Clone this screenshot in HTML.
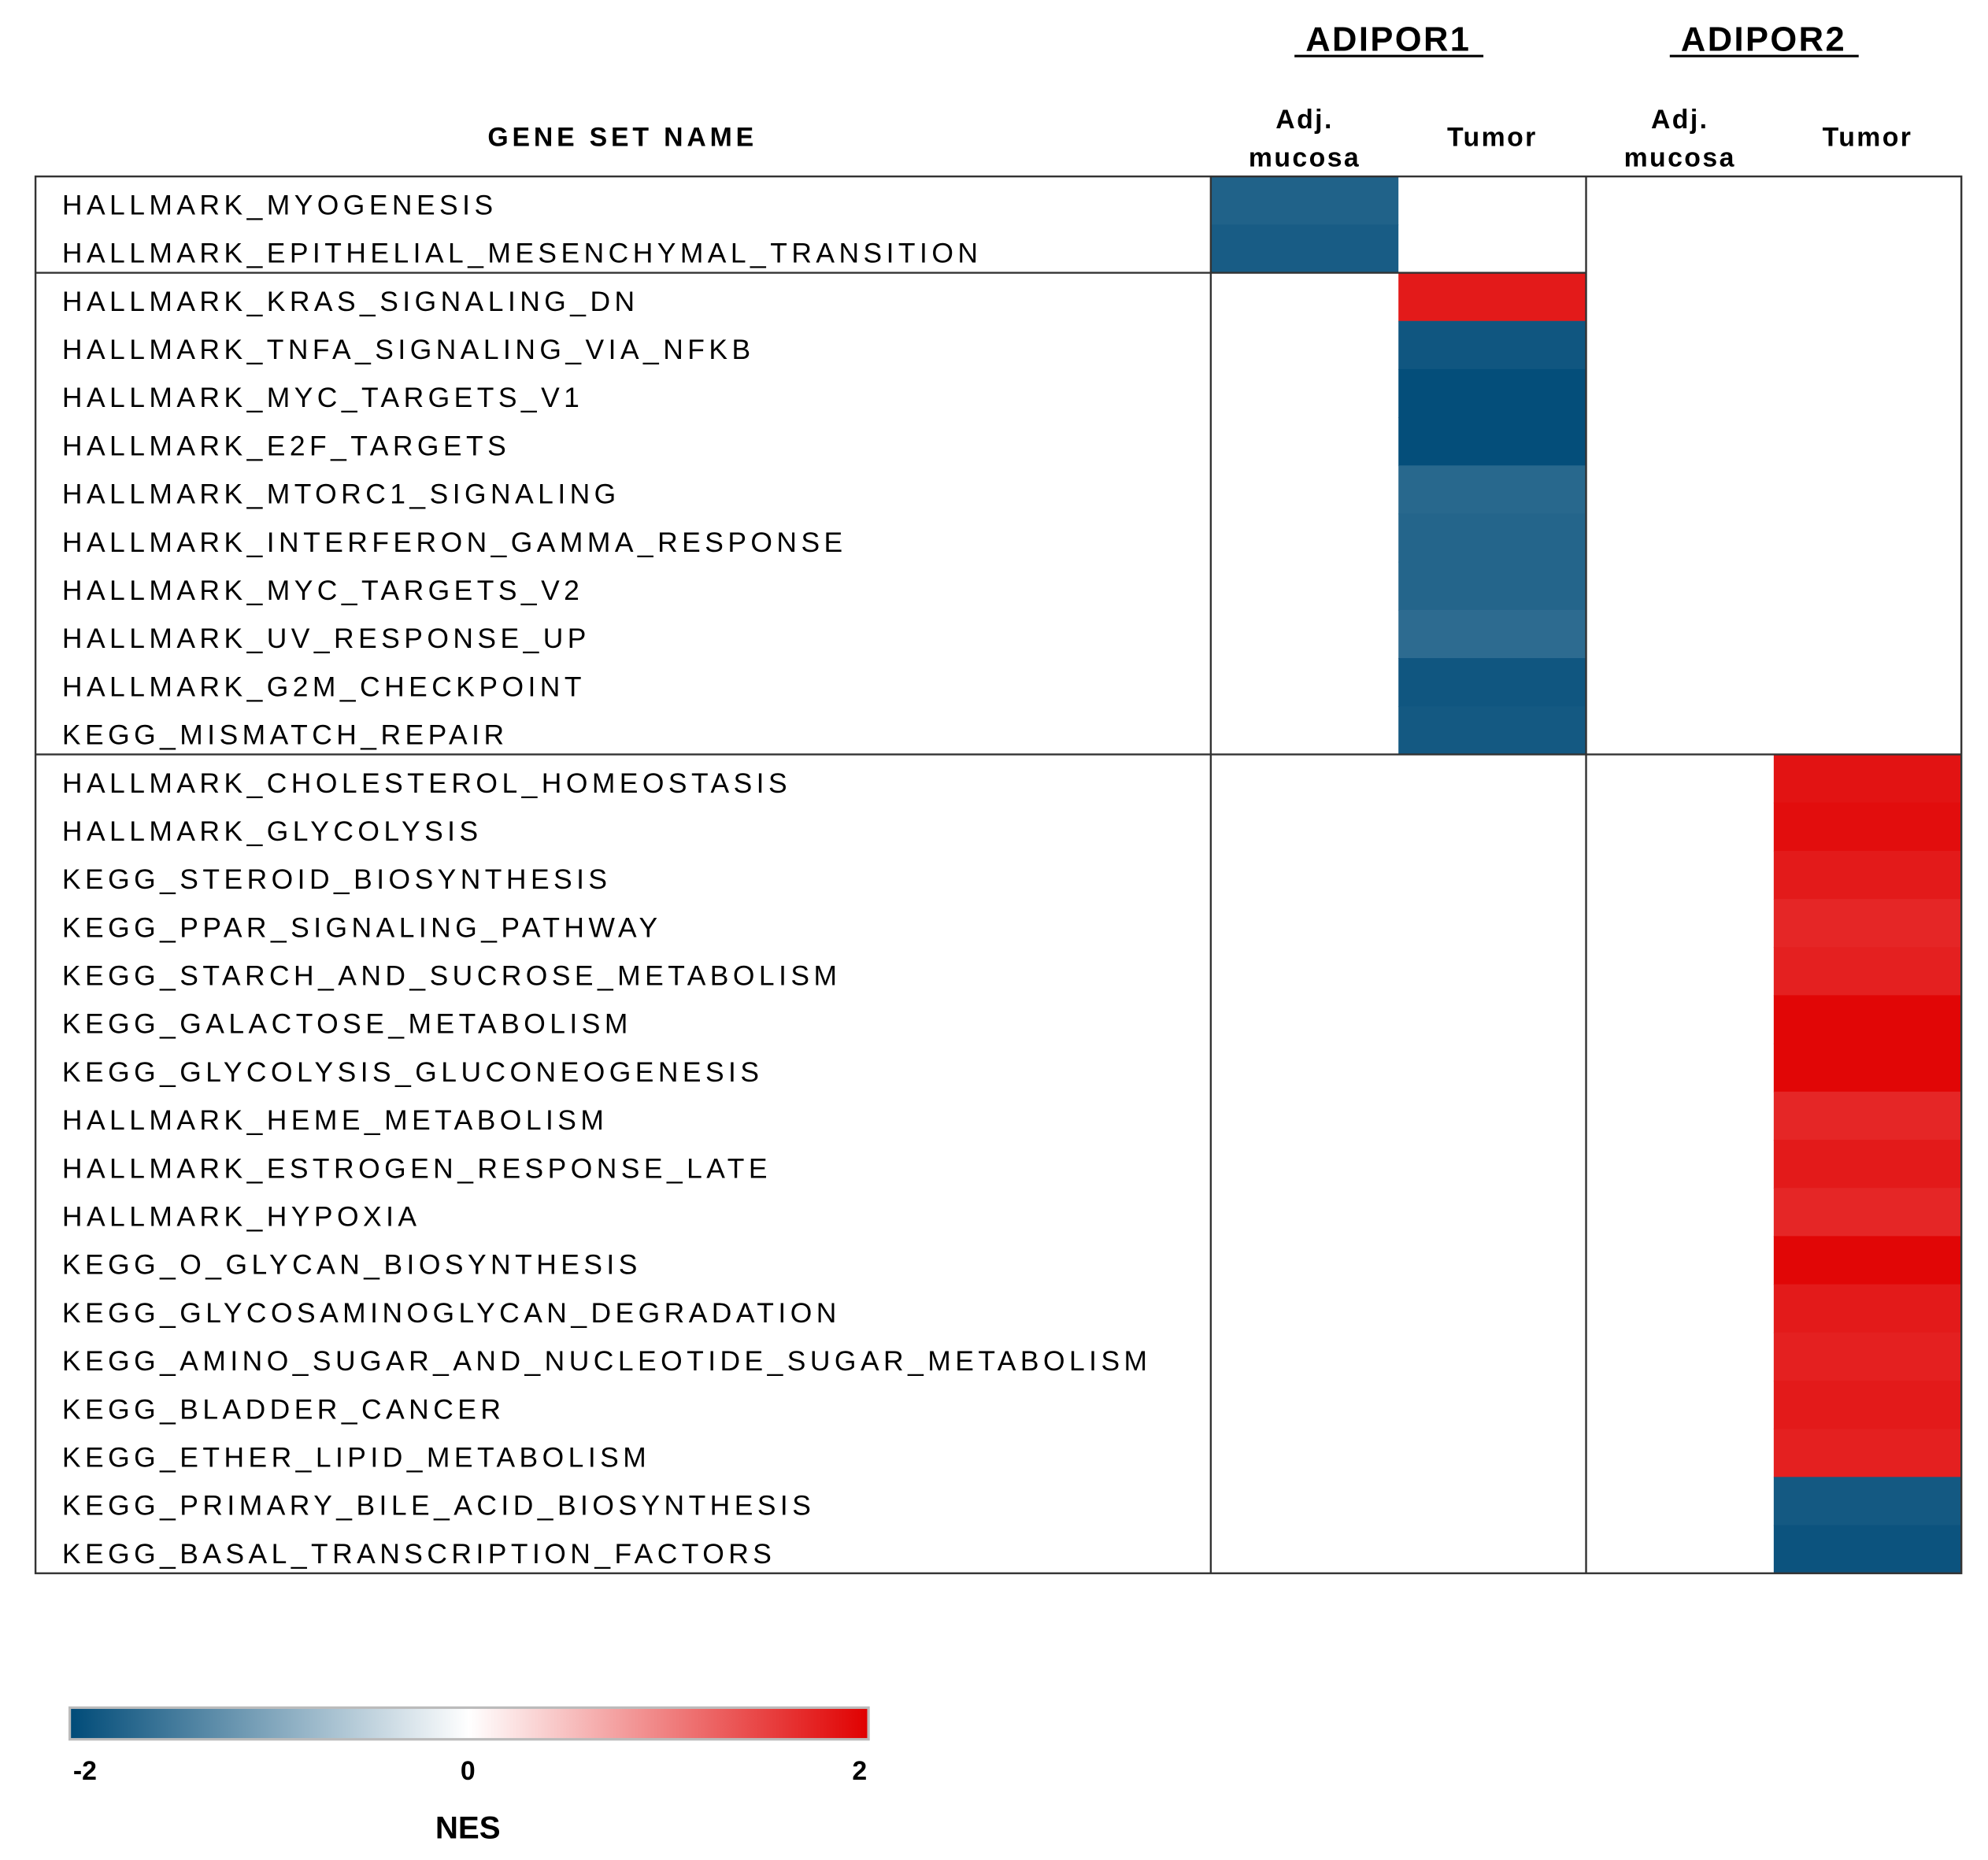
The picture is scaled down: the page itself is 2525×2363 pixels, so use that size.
<!DOCTYPE html>
<html><head><meta charset="utf-8"><style>
html,body{margin:0;padding:0;background:#fff;}
svg{display:block;}
text{font-family:"Liberation Sans",sans-serif;}
</style></head><body>
<svg id="chart" width="2525" height="2363" viewBox="0 0 1568 1467" xmlns="http://www.w3.org/2000/svg">
<defs>
<linearGradient id="cb" x1="0" x2="1" y1="0" y2="0">
<stop offset="0" stop-color="#004b78"/><stop offset="0.5" stop-color="#ffffff"/><stop offset="1" stop-color="#e00000"/>
</linearGradient>
</defs>
<g id="cells"></g>
<g id="labels"></g>
<g id="grid"></g>
<text x="1095" y="40" text-anchor="middle" font-size="27" font-weight="bold" letter-spacing="1.5">ADIPOR1</text>
<line x1="1021" x2="1170" y1="44" y2="44" stroke="#000" stroke-width="2"/>
<text x="1391" y="40" text-anchor="middle" font-size="27" font-weight="bold" letter-spacing="1.5">ADIPOR2</text>
<line x1="1317" x2="1466" y1="44" y2="44" stroke="#000" stroke-width="2"/>
<text x="491" y="115" text-anchor="middle" font-size="21" font-weight="bold" letter-spacing="3">GENE SET NAME</text>
<g id="colheads"></g>
<rect x="55" y="1347" width="630" height="25" fill="url(#cb)" stroke="#bbb" stroke-width="2"/>
<text x="67" y="1404" text-anchor="middle" font-size="21" font-weight="bold">-2</text>
<text x="369" y="1404" text-anchor="middle" font-size="21" font-weight="bold">0</text>
<text x="678" y="1404" text-anchor="middle" font-size="21" font-weight="bold">2</text>
<text x="369" y="1450" text-anchor="middle" font-size="25" font-weight="bold">NES</text>
</svg>
<script>
const geneSets = ["HALLMARK_MYOGENESIS","HALLMARK_EPITHELIAL_MESENCHYMAL_TRANSITION","HALLMARK_KRAS_SIGNALING_DN","HALLMARK_TNFA_SIGNALING_VIA_NFKB","HALLMARK_MYC_TARGETS_V1","HALLMARK_E2F_TARGETS","HALLMARK_MTORC1_SIGNALING","HALLMARK_INTERFERON_GAMMA_RESPONSE","HALLMARK_MYC_TARGETS_V2","HALLMARK_UV_RESPONSE_UP","HALLMARK_G2M_CHECKPOINT","KEGG_MISMATCH_REPAIR","HALLMARK_CHOLESTEROL_HOMEOSTASIS","HALLMARK_GLYCOLYSIS","KEGG_STEROID_BIOSYNTHESIS","KEGG_PPAR_SIGNALING_PATHWAY","KEGG_STARCH_AND_SUCROSE_METABOLISM","KEGG_GALACTOSE_METABOLISM","KEGG_GLYCOLYSIS_GLUCONEOGENESIS","HALLMARK_HEME_METABOLISM","HALLMARK_ESTROGEN_RESPONSE_LATE","HALLMARK_HYPOXIA","KEGG_O_GLYCAN_BIOSYNTHESIS","KEGG_GLYCOSAMINOGLYCAN_DEGRADATION","KEGG_AMINO_SUGAR_AND_NUCLEOTIDE_SUGAR_METABOLISM","KEGG_BLADDER_CANCER","KEGG_ETHER_LIPID_METABOLISM","KEGG_PRIMARY_BILE_ACID_BIOSYNTHESIS","KEGG_BASAL_TRANSCRIPTION_FACTORS"];
const columns = ["ADIPOR1 Adj. mucosa","ADIPOR1 Tumor","ADIPOR2 Adj. mucosa","ADIPOR2 Tumor"];
const colHeadLines = [["Adj.","mucosa"],["Tumor"],["Adj.","mucosa"],["Tumor"]];
const nesAdipor1Adj = [-1.6,-1.7,null,null,null,null,null,null,null,null,null,null,null,null,null,null,null,null,null,null,null,null,null,null,null,null,null,null,null];
const nesAdipor1Tumor = [null,null,1.8,-1.8,-1.95,-1.95,-1.5,-1.55,-1.55,-1.45,-1.8,-1.75,null,null,null,null,null,null,null,null,null,null,null,null,null,null,null,null,null];
const nesAdipor2Adj = [null,null,null,null,null,null,null,null,null,null,null,null,null,null,null,null,null,null,null,null,null,null,null,null,null,null,null,null,null];
const nesAdipor2Tumor = [null,null,null,null,null,null,null,null,null,null,null,null,1.85,1.9,1.8,1.7,1.75,1.95,1.95,1.7,1.8,1.7,1.95,1.8,1.75,1.8,1.75,-1.75,-1.85];
const groupBreaks = [2,12];

const series=[nesAdipor1Adj,nesAdipor1Tumor,nesAdipor2Adj,nesAdipor2Tumor];
const NS="http://www.w3.org/2000/svg";
const top0=139, rowH=38, left=28, colX0=955, colW=148;
const yPos=i=>top0+i*rowH;
const xPos=j=>colX0+j*colW;
function color(v){
  let t=Math.min(1,Math.abs(v)/2);
  if(v<0) t=Math.pow(t,0.6);
  const end=v<0?[0,75,120]:[224,0,0];
  const c=end.map(e=>Math.round(255+(e-255)*t));
  return `rgb(${c[0]},${c[1]},${c[2]})`;
}
function mk(tag,attrs,parent){const e=document.createElementNS(NS,tag);for(const k in attrs)e.setAttribute(k,attrs[k]);parent.appendChild(e);return e;}
const cells=document.getElementById('cells'),labels=document.getElementById('labels'),grid=document.getElementById('grid'),heads=document.getElementById('colheads');
const bottom=yPos(geneSets.length);
series.forEach((s,j)=>{s.forEach((v,i)=>{if(v===null)return;
  const r=mk('rect',{x:xPos(j),y:yPos(i),width:colW,height:rowH+0.5,fill:color(v)},cells);
  
  
});});
geneSets.forEach((g,i)=>{
  const t=mk('text',{x:49,y:yPos(i)+30,'font-size':22,'letter-spacing':'3.4'},labels);
  t.textContent=g;
  
  
});
colHeadLines.forEach((ls,j)=>{
  const cx=xPos(j)+colW/2;
  ls.forEach((l,k)=>{
    const y=ls.length===1?115:101+k*30;
    const t=mk('text',{x:cx,y:y,'text-anchor':'middle','font-size':21,'font-weight':'bold','letter-spacing':'1.5'},heads);
    t.textContent=l;
    
    
  });
});
const st={stroke:'#333','stroke-width':1.5,fill:'none'};
const box=mk('rect',Object.assign({x:left,y:top0,width:xPos(4)-left,height:bottom-top0},st),grid);


[0,2].forEach(j=>{const l=mk('line',Object.assign({x1:xPos(j),x2:xPos(j),y1:top0,y2:bottom},st),grid);
  
  });
groupBreaks.forEach(b=>{const x2=b===2?xPos(2):xPos(4);
  const l=mk('line',Object.assign({x1:left,x2:x2,y1:yPos(b),y2:yPos(b)},st),grid);
  
  });
</script>
</body></html>
